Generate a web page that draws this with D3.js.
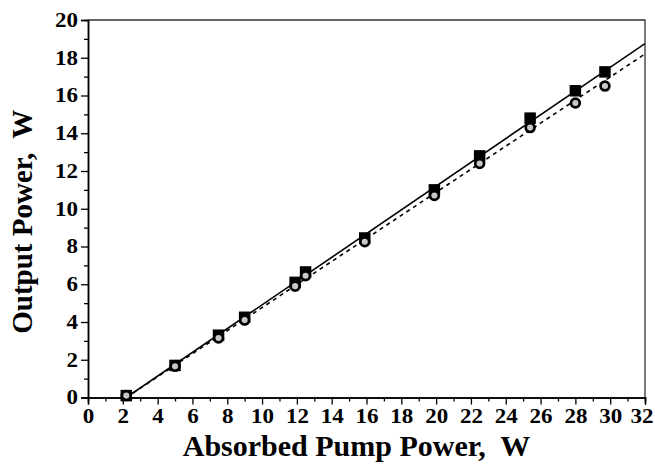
<!DOCTYPE html>
<html>
<head>
<meta charset="utf-8">
<script src="https://cdn.jsdelivr.net/npm/d3@7"></script>
<style>
  body { margin: 0; background: #fff; }
  svg text { font-family: "Liberation Serif", "Times New Roman", serif; font-weight: bold; white-space: pre; }
</style>
</head>
<body>
<svg id="canvas" width="655" height="465"></svg>
<script>
// measured points, absorbed pump power (W) vs output power (W)
const pumpPower = [2.2, 5.0, 7.5, 9.0, 11.9, 12.5, 15.9, 19.9, 22.5, 25.4, 28.0, 29.7]
const outputSquares = [0.1, 1.7, 3.3, 4.25, 6.1, 6.65, 8.45, 11.0, 12.8, 14.8, 16.25, 17.25]
const outputCircles = [0.1, 1.65, 3.15, 4.1, 5.9, 6.45, 8.25, 10.7, 12.4, 14.3, 15.6, 16.5]

// linear fits (end points)
const fitSolid = [[2.2, 0], [32, 18.75]]
const fitDashed = [[2.2, 0], [32, 18.2]]

const xTicks = d3.range(0, 33, 2)
const yTicks = d3.range(0, 21, 2)

const svg = d3.select("#canvas")
const margin = {top: 20, right: 10, bottom: 67.5, left: 88}
const width = 645 - margin.left, height = 397.5 - margin.top

const g = svg.append("g").attr("transform", `translate(${margin.left}, ${margin.top})`)

const x = d3.scaleLinear().domain([0, 32]).range([0, width])
const y = d3.scaleLinear().domain([0, 20]).range([height, 0])

//clip for fit lines
svg.append("defs").append("clipPath").attr("id", "clip")
    .append("rect").attr("width", width).attr("height", height)

//minor ticks
const xAxisMinor = d3.axisBottom(x).tickValues(d3.range(1, 32, 2)).tickSize(4).tickFormat("")
const yAxisMinor = d3.axisLeft(y).tickValues(d3.range(1, 20, 2)).tickSize(4).tickFormat("")
g.append("g").attr("transform", `translate(0, ${height})`).call(xAxisMinor)
g.append("g").call(yAxisMinor)

const xAxis = g.append("g").attr("transform", `translate(0, ${height})`)
    .call(d3.axisBottom(x).tickValues(xTicks).tickSize(7).tickPadding(4))
const yAxis = g.append("g")
    .call(d3.axisLeft(y).tickValues(yTicks).tickSize(7).tickPadding(3))

g.selectAll(".domain").attr("stroke", "#000").attr("stroke-width", 1.5)
g.selectAll(".tick line").attr("stroke", "#000").attr("stroke-width", 1.3)

// labels in the reference look a bit stretched sideways
const stretch = 1.15
xAxis.selectAll("text").attr("font-size", 20).attr("fill", "#000")
    .attr("transform", `scale(${stretch},1)`)
//last label pulled in so it stays inside the picture
xAxis.selectAll(".tick").filter(d => d === 32).select("text")
    .attr("text-anchor", "end").attr("x", 8 / stretch)
yAxis.selectAll("text").attr("font-size", 20).attr("fill", "#000")
    .attr("x", -10 / stretch)
    .attr("transform", `scale(${stretch},1)`)

//frame top and right
g.append("path")
    .attr("d", `M0,0H${width}V${height}`)
    .attr("fill", "none").attr("stroke", "#333").attr("stroke-width", 1.3)

//fit lines
const line = d3.line().x(d => x(d[0])).y(d => y(d[1]))
g.append("path").datum(fitSolid)
    .attr("clip-path", "url(#clip)")
    .attr("d", line).attr("fill", "none").attr("stroke", "#000").attr("stroke-width", 1.6)
g.append("path").datum(fitDashed)
    .attr("clip-path", "url(#clip)")
    .attr("d", line).attr("fill", "none").attr("stroke", "#000").attr("stroke-width", 1.6)
    .attr("stroke-dasharray", "4,4")

//squares
const sq = 11.5
g.selectAll(".sq").data(pumpPower).enter().append("rect")
    .attr("class", "sq")
    .attr("x", (d, i) => x(d) - sq / 2)
    .attr("y", (d, i) => y(outputSquares[i]) - sq / 2)
    .attr("width", sq).attr("height", sq)
    .attr("fill", "#000")

//circles
g.selectAll(".ci").data(pumpPower).enter().append("circle")
    .attr("class", "ci")
    .attr("cx", d => x(d))
    .attr("cy", (d, i) => y(outputCircles[i]))
    .attr("r", 4.4)
    .attr("fill", "#c8c8c8")
    .attr("stroke", "#000").attr("stroke-width", 2.7)

//axis titles
svg.append("text")
    .attr("x", margin.left + width / 2 - 10).attr("y", 456)
    .attr("text-anchor", "middle").attr("font-size", 30)
    .text("Absorbed Pump Power,  W")
svg.append("text")
    .attr("transform", `translate(32, ${margin.top + height / 2 + 13}) rotate(-90)`)
    .attr("text-anchor", "middle").attr("font-size", 29)
    .text("Output Power,  W")
</script>
</body>
</html>
